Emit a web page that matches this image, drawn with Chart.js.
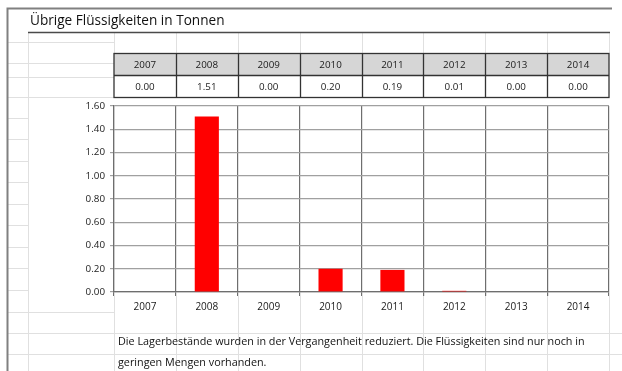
<!DOCTYPE html>
<html>
<head>
<meta charset="utf-8">
<script src="https://cdn.jsdelivr.net/npm/chart.js@4/dist/chart.umd.min.js"></script>
<style>
  html, body { margin: 0; padding: 0; background: #fff; }
  #wrap { position: relative; width: 622px; height: 371px; overflow: hidden; }
  #c { position: absolute; left: 0; top: 0; }
  .txt { position: absolute; font-family: "Open Sans", Lato, sans-serif; color: #111; white-space: nowrap; }
  #title { left: 30px; top: 10px; font-size: 13.6px; }
  #note1 { left: 118px; top: 333px; font-size: 10.8px; }
  #note2 { left: 118px; top: 354px; font-size: 10.8px; }
</style>
</head>
<body>
<div id="wrap">
  <canvas id="c" width="622" height="371"></canvas>
  <div class="txt" id="title">Übrige Flüssigkeiten in Tonnen</div>
  <div class="txt" id="note1">Die Lagerbestände wurden in der Vergangenheit reduziert. Die Flüssigkeiten sind nur noch in</div>
  <div class="txt" id="note2">geringen Mengen vorhanden.</div>
</div>
<script>
// Years and stock of remaining liquids (tonnes)
const years = ['2007', '2008', '2009', '2010', '2011', '2012', '2013', '2014'];
const tonnes = [0.00, 1.51, 0.00, 0.20, 0.19, 0.01, 0.00, 0.00];
const yTicks = [0, 0.2, 0.4, 0.6, 0.8, 1.0, 1.2, 1.4, 1.6];

const FONT = '"Open Sans", Lato, sans-serif';
const TEXT = '#1a1a1a';

// Spreadsheet background: faint cell grid and outer border lines
const sheetGrid = {
  id: 'sheetGrid',
  beforeDraw(chart) {
    const ctx = chart.ctx;
    const xs = chart.scales.x;
    ctx.save();
    ctx.fillStyle = '#ffffff';
    ctx.fillRect(0, 0, chart.width, chart.height);
    ctx.strokeStyle = '#e0e0e0';
    ctx.lineWidth = 1;
    const cols = [];
    for (let i = 0; i <= years.length; i++) cols.push(Math.round(xs.getPixelForValue(i - 0.5)) + 0.5);
    const rows = [42, 63, 77, 97, 118, 139, 161, 182, 204, 225, 247, 268, 290, 312, 333, 354];
    // left strip short row marks
    rows.forEach(y => { ctx.beginPath(); ctx.moveTo(8, y + 0.5); ctx.lineTo(28, y + 0.5); ctx.stroke(); });
    // rows below the plot
    [333, 354].forEach(y => { ctx.beginPath(); ctx.moveTo(28, y + 0.5); ctx.lineTo(622, y + 0.5); ctx.stroke(); });
    [42, 63, 77, 97, 312].forEach(y => { ctx.beginPath(); ctx.moveTo(28, y + 0.5); ctx.lineTo(114, y + 0.5); ctx.stroke(); });
    cols.forEach(x => {
      ctx.beginPath(); ctx.moveTo(x, 33); ctx.lineTo(x, 53); ctx.stroke();
      ctx.beginPath(); ctx.moveTo(x, 296); ctx.lineTo(x, 371); ctx.stroke();
    });
    ctx.beginPath(); ctx.moveTo(28.5, 33); ctx.lineTo(28.5, 371); ctx.stroke();
    // sheet frame
    ctx.strokeStyle = '#808080';
    ctx.lineWidth = 2;
    ctx.beginPath(); ctx.moveTo(7.5, 371); ctx.lineTo(7.5, 8.5); ctx.lineTo(612, 8.5); ctx.stroke();
    ctx.strokeStyle = '#4a4a4a';
    ctx.lineWidth = 1.3;
    ctx.beginPath(); ctx.moveTo(28, 32.5); ctx.lineTo(610, 32.5); ctx.stroke();
    // white plot area background
    const a = chart.chartArea;
    ctx.fillStyle = '#ffffff';
    ctx.fillRect(a.left, a.top, a.right - a.left, a.bottom - a.top);
    ctx.restore();
  }
};

// Value table above the plot, one column per category
const valueTable = {
  id: 'valueTable',
  afterDraw(chart) {
    const ctx = chart.ctx;
    const xs = chart.scales.x;
    const top = 53.5, mid = 75.5, bot = 97.5;
    ctx.save();
    const left = xs.getPixelForValue(-0.5), right = xs.getPixelForValue(years.length - 0.5);
    ctx.fillStyle = '#d6d6d6';
    ctx.fillRect(left, top, right - left, mid - top);
    ctx.strokeStyle = '#333';
    ctx.lineWidth = 1.3;
    ctx.strokeRect(left, top, right - left, bot - top);
    ctx.beginPath(); ctx.moveTo(left, mid); ctx.lineTo(right, mid); ctx.stroke();
    for (let i = 1; i < years.length; i++) {
      const x = Math.round(xs.getPixelForValue(i - 0.5)) + 0.5;
      ctx.beginPath(); ctx.moveTo(x, top); ctx.lineTo(x, bot); ctx.stroke();
    }
    ctx.fillStyle = TEXT;
    ctx.font = '9.8px ' + FONT;
    ctx.textAlign = 'center';
    ctx.textBaseline = 'middle';
    years.forEach((yr, i) => {
      const cx = xs.getPixelForValue(i);
      ctx.fillText(yr, cx, (top + mid) / 2 + 0.5);
      ctx.fillText(tonnes[i].toFixed(2), cx, (mid + bot) / 2 + 0.5);
    });
    ctx.restore();
  }
};

new Chart(document.getElementById('c'), {
  type: 'bar',
  data: {
    labels: years,
    datasets: [{
      data: tonnes,
      backgroundColor: '#ff0000',
      borderWidth: 0,
      categoryPercentage: 1.0,
      barPercentage: 0.39
    }]
  },
  options: {
    responsive: false,
    animation: false,
    events: [],
    layout: { padding: { left: 0, right: 13, top: 106, bottom: 49 } },
    plugins: { legend: { display: false }, tooltip: { enabled: false }, title: { display: false } },
    scales: {
      x: {
        offset: true,
        grid: { offset: true, color: '#6e6e6e', lineWidth: 1.2, tickLength: 4, drawTicks: true },
        border: { color: '#6e6e6e', width: 1.2 },
        ticks: { color: TEXT, font: { family: FONT, size: 10 }, padding: 5, maxRotation: 0 },
        afterFit(axis) { axis.height = 30; }
      },
      y: {
        min: 0, max: 1.6,
        afterBuildTicks(axis) { axis.ticks = yTicks.map(v => ({ value: v })); },
        grid: { color: '#a0a0a0', lineWidth: 1.2, tickLength: 4 },
        border: { color: '#6e6e6e', width: 1.2 },
        ticks: {
          color: TEXT, font: { family: FONT, size: 9.8 }, padding: 5,
          callback: v => Number(v).toFixed(2)
        },
        afterFit(axis) { axis.width = 114; }
      }
    }
  },
  plugins: [sheetGrid, valueTable]
});
</script>
</body>
</html>
